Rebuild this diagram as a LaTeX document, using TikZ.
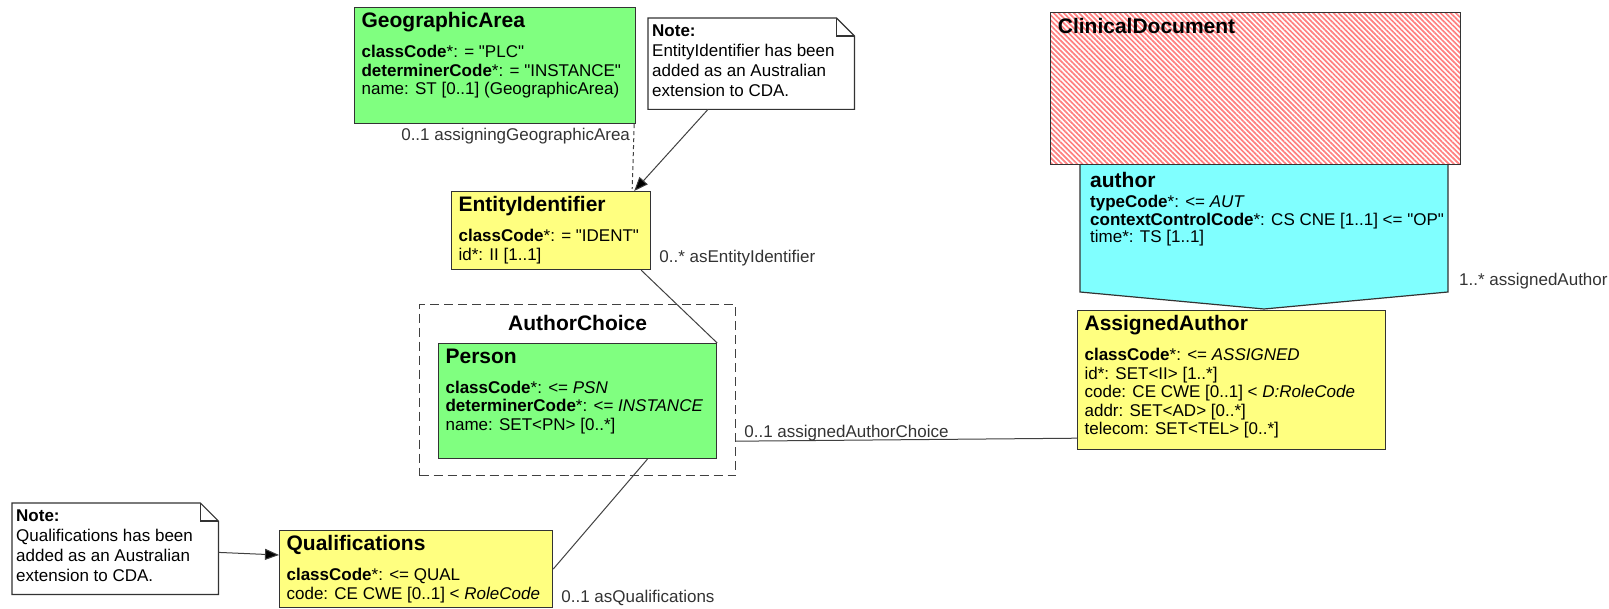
\documentclass[tikz,border=0pt]{standalone}
\usepackage{fontspec}
\setmainfont{Liberation Sans}[Ligatures=TeXOff]
\usetikzlibrary{positioning,arrows.meta,calc,patterns.meta}

\definecolor{clsgreen}{HTML}{80FF80}
\definecolor{clsyellow}{HTML}{FFFF80}
\definecolor{clscyan}{HTML}{80FFFF}
\definecolor{clsred}{HTML}{FF8080}

\newcommand{\bodyfont}{\fontsize{17}{18.5}\selectfont}
\newcommand{\ttlfont}{\fontsize{21}{18.5}\selectfont\bfseries}
\newcommand{\notefont}{\fontsize{17}{20}\selectfont}
% class body: width, height, text (top aligned)
\newcommand{\clsbody}[3]{\parbox[t][#2][t]{#1}{\bodyfont\raggedright #3}}
\newcommand{\notebody}[3]{\parbox[t][#2][t]{#1}{\notefont\raggedright #3}}

\tikzset{
  cls/.style     = {rectangle, draw=black!80, line width=1.2pt, anchor=north west,
                    inner xsep=7pt, inner ysep=5pt},
  hatched/.style = {cls, preaction={fill=white}, pattern color=clsred,
                    pattern={Lines[angle=-45, distance=3.6pt, line width=1.7pt]}},
  choice/.style  = {rectangle, draw=black!75, line width=1.2pt,
                    dash pattern=on 9pt off 5pt, anchor=north west},
  note/.style    = {rectangle, fill=white, anchor=north west,
                    inner xsep=4pt, inner ysep=7pt},
  noteline/.style= {draw=black!80, line width=1.2pt, line join=miter},
  rel/.style     = {draw=black!80, line width=1.2pt, fill=clscyan},
  assoc/.style   = {draw=black!75, line width=1pt},
  pointer/.style = {assoc, -{Triangle[length=14pt, width=11pt, fill=black]}},
  role/.style    = {font=\bodyfont, text=black!80, inner sep=0pt},
}

\begin{document}
\begin{tikzpicture}[x=1pt, y=-1pt]
  \useasboundingbox (0,0) rectangle (1609,609);

  % author act relationship under the ClinicalDocument
  \draw[rel] (1080,164) -- (1448,164) -- (1448,292) -- (1264,309) -- (1080,292) -- cycle;
  \node[hatched] (cd) at (1050,12)
       {\clsbody{396pt}{142pt}{{\ttlfont ClinicalDocument}}};
  \node[anchor=north west, inner sep=0pt] (author) at ($(cd.south west)+(40,6)$)
       {\parbox[t]{400pt}{\bodyfont\baselineskip=17.5pt\raggedright {\ttlfont author}\\[3pt]
        \textbf{typeCode}*: <= \textit{AUT}\\
        \textbf{contextControlCode}*: CS CNE [1..1] <= "OP"\\
        time*: TS [1..1]}};

  % classes
  \node[cls, fill=clsgreen] (geo) at (354,7)
       {\clsbody{267pt}{106pt}{{\ttlfont GeographicArea}\\[11.5pt]
        \textbf{classCode}*: = "PLC"\\
        \textbf{determinerCode}*: = "INSTANCE"\\
        name: ST [0..1] (GeographicArea)}};
  \node[cls, fill=clsyellow] (ident) at (451,191)
       {\clsbody{185pt}{68pt}{{\ttlfont EntityIdentifier}\\[11.5pt]
        \textbf{classCode}*: = "IDENT"\\
        id*: II [1..1]}};
  \node[choice, minimum width=316pt, minimum height=171pt] (choice) at (419,304) {};
  \node[font=\ttlfont, inner sep=0pt] (choicettl) at ($(choice.north)+(0,19)$) {AuthorChoice};
  \node[cls, fill=clsgreen] (person) at (438,343)
       {\clsbody{264pt}{105pt}{{\ttlfont Person}\\[11.5pt]
        \textbf{classCode}*: <= \textit{PSN}\\
        \textbf{determinerCode}*: <= \textit{INSTANCE}\\
        name: SET<PN> [0..*]}};
  \node[cls, fill=clsyellow] (qual) at (279,530)
       {\clsbody{259pt}{67pt}{{\ttlfont Qualifications}\\[11.5pt]
        \textbf{classCode}*: <= QUAL\\
        code: CE CWE [0..1] < \textit{RoleCode}}};
  \node[cls, fill=clsyellow] (assigned) at (1077,310)
       {\clsbody{294pt}{129pt}{{\ttlfont AssignedAuthor}\\[11.5pt]
        \textbf{classCode}*: <= \textit{ASSIGNED}\\
        id*: SET<II> [1..*]\\
        code: CE CWE [0..1] < \textit{D:RoleCode}\\
        addr: SET<AD> [0..*]\\
        telecom: SET<TEL> [0..*]}};

  % notes
  \node[note] (note1) at (648,18)
       {\notebody{198pt}{77pt}{\textbf{Note:}\\EntityIdentifier has been\\added as an Australian\\extension to CDA.}};
  \node[note] (note2) at (12,503)
       {\notebody{198pt}{77pt}{\textbf{Note:}\\Qualifications has been\\added as an Australian\\extension to CDA.}};
  \foreach \n in {note1, note2} {
    \draw[noteline] (\n.north west) -- ([xshift=-18pt]\n.north east)
          -- ([yshift=-18pt]\n.north east) -- (\n.south east) -- (\n.south west) -- cycle;
    \draw[noteline] ([xshift=-18pt]\n.north east) |- ([yshift=-18pt]\n.north east);
  }

  % associations
  \draw[assoc, dash pattern=on 4pt off 3pt] ($(geo.south east)+(-2,0)$) -- ($(ident.north east)+(-19,-2)$);
  \draw[pointer] ($(note1.south west)+(60,0)$) -- ($(ident.north east)+(-17,0)$);
  \draw[assoc] ($(ident.south east)+(-10,0)$) -- (person.north east);
  \draw[assoc] ($(person.south west)!0.75!(person.south east)$) -- (qual.east);
  \draw[pointer] ($(note2.south east)+(0,-42)$) -- ($(qual.north west)+(0,25)$);
  \coordinate (cstart) at ($(choice.south east)+(0,-35)$);
  \coordinate (cend) at ($(assigned.south west)+(0,-12)$);
  \draw[assoc] (cstart) -- (cend);

  % role names
  \node[role, anchor=base east] (rgeo) at ($(geo.south east)+(-6,16)$) {0..1 assigningGeographicArea};
  \node[role, anchor=base west] (rident) at ($(ident.south east)+(8,-8)$) {0..* asEntityIdentifier};
  \node[role, anchor=base west] (rchoice) at ($(cstart)+(8,-4)$) {0..1 assignedAuthorChoice};
  \node[role, anchor=base west] (rqual) at ($(qual.south east)+(8,-6)$) {0..1 asQualifications};
  \node[role, anchor=base west] (rauthor) at (1459,286) {1..* assignedAuthor};
\end{tikzpicture}
\end{document}
